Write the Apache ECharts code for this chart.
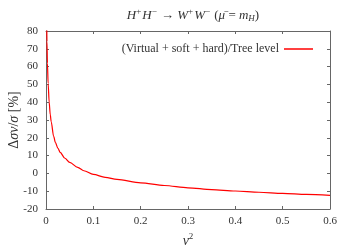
<!DOCTYPE html>
<html><head><meta charset="utf-8">
<script src="https://cdn.jsdelivr.net/npm/echarts@6/dist/echarts.min.js"></script>
<style>html,body{margin:0;padding:0;background:#fff}#c{width:350px;height:245px}</style>
</head><body><div id="c"></div>
<script>
const v2 = [0.0012,0.0015,0.002,0.003,0.0045,0.0067,0.009,0.011,0.016,0.02,0.025,0.03,0.04,0.05,0.067,0.08,0.1,0.125,0.15,0.2,0.25,0.3,0.35,0.4,0.45,0.5,0.55,0.6];
const ratio = [95,85,74,62,50.5,40,33,29,21,17.3,14.2,11.8,8.5,6.2,3.4,1.5,-0.6,-2.2,-3.4,-5.3,-6.8,-8.1,-9.1,-9.9,-10.6,-11.2,-11.8,-12.4];
const xTicks = [0,0.1,0.2,0.3,0.4,0.5,0.6];
const yTicks = [-20,-10,0,10,20,30,40,50,60,70,80];
const seriesName = '(Virtual + soft + hard)/Tree level';

const chart = echarts.init(document.getElementById('c'), null, {renderer:'canvas'});
const font = 'Liberation Serif';
const axCol = '#666';
const lblCol = '#333';
function ax(pos, show){
  const isX = pos==='top'||pos==='bottom';
  return {
    type:'value', position:pos,
    min: isX?xTicks[0]:yTicks[0],
    max: isX?xTicks[xTicks.length-1]:yTicks[yTicks.length-1],
    interval: isX?0.1:10,
    axisLine:{show:true,onZero:false,lineStyle:{color:axCol,width:1}},
    axisTick:{show:true,inside:true,length:3,lineStyle:{color:axCol}},
    axisLabel:{show:show,color:lblCol,fontFamily:font,fontSize:11,margin:isX?7:8},
    splitLine:{show:false}
  };
}
const xb = ax('bottom',true);
xb.name = '{i|v}{s|2}';
xb.nameLocation='middle'; xb.nameGap=22;
xb.nameTextStyle={rich:{i:{fontFamily:font,fontStyle:'italic',fontSize:14,color:lblCol},s:{fontFamily:font,fontSize:9,color:lblCol,padding:[0,0,9,0]}}};
const yl = ax('left',true);
yl.name = '{n|Δ}{i|σv}{n|/}{i|σ}{n| [%]}';
yl.nameLocation='middle'; yl.nameGap=25; yl.nameRotate=90; yl.nameMoveOverlap=false;
yl.nameTextStyle={rich:{n:{fontFamily:font,fontSize:14,color:lblCol},i:{fontFamily:font,fontStyle:'italic',fontSize:14,color:lblCol}}};
chart.setOption({
  animation:false,
  title:{
    text:'{i|H}{s|+}{i|H}{s|−}{n| → }{i|W}{s|+}{i|W}{s|−}{n| (}{i|μ̄}{n| = }{i|m}{b|H}{n|)}',
    left:188, top:2, textAlign:'center',
    textStyle:{fontWeight:'normal',rich:{
      n:{fontFamily:font,fontSize:13,color:lblCol},
      i:{fontFamily:font,fontStyle:'italic',fontSize:13,color:lblCol},
      s:{fontFamily:font,fontSize:9,color:lblCol,padding:[0,1,8,0]},
      b:{fontFamily:font,fontStyle:'italic',fontSize:9,color:lblCol,padding:[6,0,0,0]}
    }}
  },
  legend:{
    data:[{name:seriesName,icon:'rect'}],
    right:32, top:38, align:'right', itemWidth:29, itemHeight:1.5, itemGap:6,
    textStyle:{fontFamily:font,fontSize:12,color:lblCol}
  },
  grid:{left:46,right:20,top:31,bottom:36,containLabel:false,outerBoundsMode:'none'},
  xAxis:[xb, ax('top',false)],
  yAxis:[yl, ax('right',false)],
  series:[{
    name:seriesName, type:'line', xAxisIndex:0, yAxisIndex:0,
    data: v2.map((x,i)=>[x,ratio[i]]),
    showSymbol:false, smooth:0.3, smoothMonotone:'x', clip:true,
    lineStyle:{color:'#ff0000',width:1.2}, itemStyle:{color:'#ff0000'}
  }]
});
</script></body></html>
